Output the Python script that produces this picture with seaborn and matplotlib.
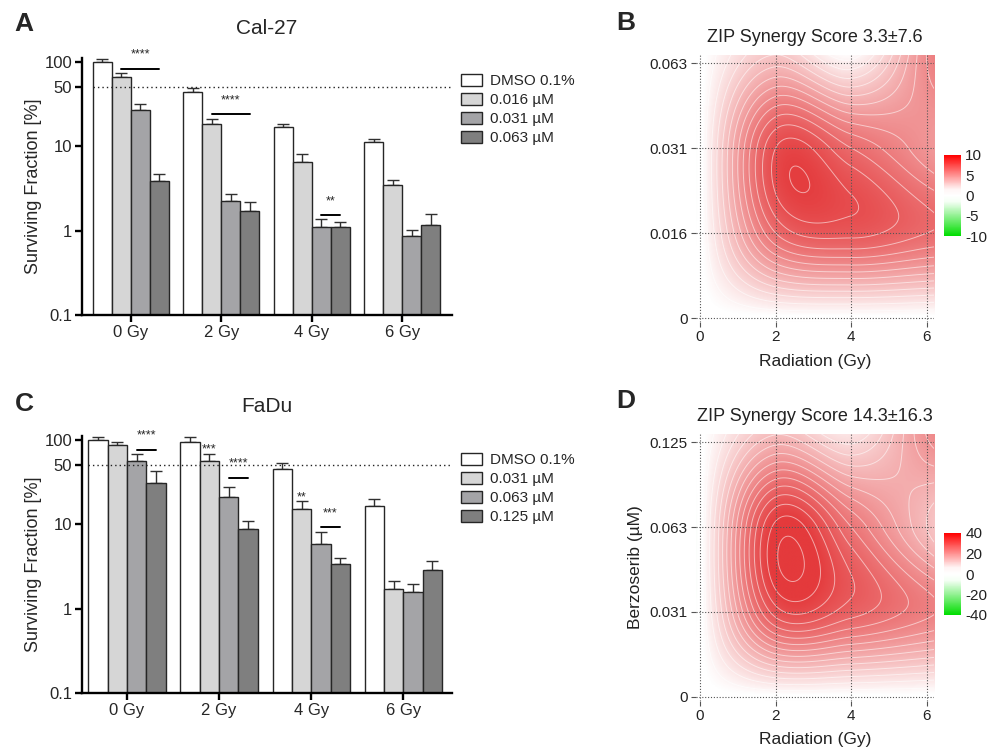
import numpy as np
import pandas as pd
import matplotlib
matplotlib.use("Agg")
import matplotlib.pyplot as plt
import seaborn as sns
from matplotlib.colors import LinearSegmentedColormap, Normalize
from matplotlib.cm import ScalarMappable
from matplotlib.container import BarContainer

# ==========================
# DATA
# ==========================
doses = ["0 Gy", "2 Gy", "4 Gy", "6 Gy"]

cal_treat = ["DMSO 0.1%", "0.016 µM", "0.031 µM", "0.063 µM"]
cal_mean = [[100, 43.7, 16.8, 11.4],
            [67, 18.2, 6.6, 3.45],
            [26.7, 2.23, 1.10, 0.87],
            [3.92, 1.73, 1.10, 1.16]]
cal_err = [[8.6, 5.0, 1.8, 0.9],
           [6.4, 2.9, 1.5, 0.54],
           [4.8, 0.47, 0.27, 0.16],
           [0.78, 0.48, 0.18, 0.40]]
# (group, bar from, bar to, line y, stars, text y)
cal_sig = [(0, 1, 3, 82, "****", 124),
           (1, 1, 3, 23.9, "****", 35),
           (2, 2, 3, 1.55, "**", 2.25)]

fadu_treat = ["DMSO 0.1%", "0.031 µM", "0.063 µM", "0.125 µM"]
fadu_mean = [[100, 95.6, 45.4, 16.7],
             [88.1, 57.0, 15.0, 1.69],
             [55.9, 21.3, 5.82, 1.58],
             [31.0, 8.84, 3.34, 2.89]]
fadu_err = [[7.6, 13.0, 8.5, 3.2],
            [7.5, 11.3, 3.8, 0.41],
            [11.8, 6.7, 2.4, 0.37],
            [12.4, 2.2, 0.6, 0.74]]
fadu_sig = [(0, 2, 3, 76.9, "****", 114),
            (1, 1, 1, None, "***", 78),
            (1, 2, 3, 35.8, "****", 53),
            (2, 1, 1, None, "**", 21),
            (2, 2, 3, 9.33, "***", 13.5)]

bar_colors = ["#ffffff", "#d6d6d6", "#a4a4a7", "#7f7f7f"]

# ZIP synergy surfaces: rows = drug dose (low -> high), cols = radiation 0,2,4,6 Gy
rad_ticks = [0, 2, 4, 6]
cal_dose_labels = ["0", "0.016", "0.031", "0.063"]
cal_zip = np.array([[0, 0, 0, 0],
                    [0, 7.5, 8.5, 7.5],
                    [0, 9.0, 7.5, 5.5],
                    [0, 3.5, 1.0, 6.0]])
fadu_dose_labels = ["0", "0.031", "0.063", "0.125"]
fadu_zip = np.array([[0, 0, 0, 0],
                     [0, 35, 32, 26],
                     [0, 40, 28, 14],
                     [0, 16, 8, 22]])

# ==========================
# STYLE
# ==========================
sns.set_theme(style="white")
plt.rcParams["font.family"] = ["Liberation Sans", "DejaVu Sans"]
plt.rcParams["axes.unicode_minus"] = False

W, H = 997, 749
fig = plt.figure(figsize=(W / 100, H / 100), dpi=100)


def px_axes(left, top, right, bottom):
    return fig.add_axes([left / W, 1 - bottom / H, (right - left) / W, (bottom - top) / H])


# ==========================
# BAR PANELS
# ==========================
def bar_panel(ax, treat, mean, err, sig, xlim, leg_top):
    rows = []
    for h, t in enumerate(treat):
        for g, d in enumerate(doses):
            rows.append({"dose": d, "treat": t, "sf": mean[h][g]})
    df = pd.DataFrame(rows)
    sns.barplot(data=df, x="dose", y="sf", hue="treat", palette=bar_colors,
                width=0.84, gap=0, edgecolor="#262626", linewidth=1.0,
                errorbar=None, ax=ax, zorder=2)
    ax.set_yscale("log")
    ax.set_ylim(0.1, 111.5)
    ax.set_xlim(*xlim)

    # upper SEM bars
    bars = [c for c in ax.containers if isinstance(c, BarContainer)]
    centers = []
    for h, cont in enumerate(bars):
        cx = [p.get_x() + p.get_width() / 2 for p in cont.patches]
        cy = [p.get_height() for p in cont.patches]
        centers.append(cx)
        ax.errorbar(cx, cy, yerr=[np.zeros(len(cy)), err[h]], fmt="none",
                    ecolor="#303030", elinewidth=1.0, capsize=4.5, capthick=1.0, zorder=1)

    ax.axhline(50, xmin=(-0.42 - xlim[0]) / (xlim[1] - xlim[0]), xmax=1,
               color="#222222", lw=1.0, ls=(0, (1, 2.2)), zorder=4)

    for g, h0, h1, ly, stars, ty in sig:
        x0, x1 = centers[h0][g], centers[h1][g]
        if ly is not None:
            ax.plot([x0, x1], [ly, ly], color="black", lw=1.4, zorder=5, clip_on=False)
        ax.text((x0 + x1) / 2, ty, stars, ha="center", va="center", fontsize=9, zorder=5)

    for side in ["top", "right"]:
        ax.spines[side].set_visible(False)
    for side in ["left", "bottom"]:
        ax.spines[side].set_linewidth(1.7)
        ax.spines[side].set_color("black")
    ax.set_yticks([0.1, 1, 10, 50, 100])
    ax.set_yticklabels(["0.1", "1", "10", "50", "100"])
    ax.yaxis.set_minor_locator(matplotlib.ticker.NullLocator())
    ax.tick_params(axis="both", which="major", direction="out", length=5, width=1.7,
                   color="black", labelsize=12, pad=2, left=True, bottom=True)
    ax.set_xlabel("")
    ax.set_ylabel("Surviving Fraction [%]", fontsize=13)
    ax.yaxis.set_label_coords(-0.108, 0.5)

    handles, labels = ax.get_legend_handles_labels()
    ax.legend(handles, labels, loc="upper left", bbox_to_anchor=(461 / W, 1 - leg_top / H),
              bbox_transform=fig.transFigure, frameon=False, fontsize=11,
              handlelength=1.35, handleheight=0.8, handletextpad=0.55,
              labelspacing=0.32, borderpad=0, borderaxespad=0)


axA = px_axes(82, 58, 452, 315)
bar_panel(axA, cal_treat, cal_mean, cal_err, cal_sig, (-0.54, 3.55), 74)
fig.text(267 / W, 1 - 28 / H, "Cal-27", ha="center", va="center", fontsize=15)

axC = px_axes(82, 436, 452, 693)
bar_panel(axC, fadu_treat, fadu_mean, fadu_err, fadu_sig, (-0.49, 3.53), 453)
fig.text(267 / W, 1 - 407 / H, "FaDu", ha="center", va="center", fontsize=15)

# ==========================
# SYNERGY PANELS
# ==========================
surf_cmap = LinearSegmentedColormap.from_list(
    "zip_surf", [(0, "#2fc02f"), (0.48, "#ffffff"), (0.51, "#ffffff"), (1, "#e43a3c")])
bar_cmap = LinearSegmentedColormap.from_list(
    "zip_bar", [(0, "#00dd00"), (0.42, "#f4fff4"), (0.5, "#ffffff"), (0.58, "#fff4f4"), (1, "#ff0000")])


def cr_weights(t):
    # catmull-rom weights of the 4 grid nodes at positions t (index units)
    Wt = np.zeros((len(t), 4))
    i = np.clip(np.floor(t).astype(int), 0, 2)
    s = t - i
    for k in range(4):
        p = np.zeros(4)
        p[k] = 1
        ext = np.concatenate([[2 * p[0] - p[1]], p, [2 * p[3] - p[2]]])
        p0, p1, p2, p3 = ext[i], ext[i + 1], ext[i + 2], ext[i + 3]
        Wt[:, k] = 0.5 * (2 * p1 + (-p0 + p2) * s + (2 * p0 - 5 * p1 + 4 * p2 - p3) * s ** 2
                          + (-p0 + 3 * p1 - 3 * p2 + p3) * s ** 3)
    return Wt


def zip_panel(ax, cax, M, dose_labels, vmax, step, title, ylabel):
    xlim = (-0.12, 6.2)
    ylim = (-0.05, 3.1)
    xs = np.linspace(xlim[0], xlim[1], 300)
    ys = np.linspace(ylim[0], ylim[1], 300)
    Z = cr_weights(ys) @ M @ cr_weights(xs / 2).T
    ax.imshow(Z, origin="lower", extent=(xlim[0], xlim[1], ylim[0], ylim[1]),
              cmap=surf_cmap, vmin=-vmax, vmax=vmax, aspect="auto", interpolation="bilinear", zorder=0)
    levels = np.arange(step, vmax * 1.3, step)
    ax.contour(xs, ys, Z, levels=levels, colors="white", linewidths=0.7, alpha=0.55, zorder=1)
    ax.set_xlim(*xlim)
    ax.set_ylim(*ylim)
    ax.set_xticks(rad_ticks)
    ax.set_yticks(range(4))
    ax.set_yticklabels(dose_labels)
    ax.grid(True, color="#555555", lw=0.8, ls=(0, (1, 1.6)))
    ax.set_axisbelow(False)
    for s in ax.spines.values():
        s.set_visible(False)
    ax.tick_params(length=3.5, width=0.8, color="#555555", labelsize=11, labelcolor="#222222",
                   pad=2, left=True, bottom=True)
    ax.set_xlabel("Radiation (Gy)", fontsize=12.5, color="#222222", labelpad=7)
    if ylabel:
        ax.set_ylabel(ylabel, fontsize=12.5, color="#222222", labelpad=5)
    ax.set_title(title, fontsize=13, color="#222222", pad=9)

    cb = fig.colorbar(ScalarMappable(Normalize(-vmax, vmax), bar_cmap), cax=cax)
    cb.outline.set_visible(False)
    ticks = [-vmax, -vmax / 2, 0, vmax / 2, vmax]
    cb.set_ticks(ticks)
    cb.set_ticklabels([str(int(t)) for t in ticks])
    cax.tick_params(length=0, labelsize=11, labelcolor="#222222", pad=3)


axB = px_axes(695.5, 54.5, 934.4, 322.3)
caxB = px_axes(944, 155, 961, 236)
zip_panel(axB, caxB, cal_zip, cal_dose_labels, 10, 0.75, "ZIP Synergy Score 3.3±7.6", None)

axD = px_axes(695.5, 433.8, 934.4, 701)
caxD = px_axes(944, 533, 961, 615)
zip_panel(axD, caxD, fadu_zip, fadu_dose_labels, 40, 2.8, "ZIP Synergy Score 14.3±16.3", "Berzoserib (µM)")

# panel letters
for letter, x, y in [("A", 24, 24), ("B", 626, 23), ("C", 24, 404), ("D", 626, 401)]:
    fig.text(x / W, 1 - y / H, letter, ha="center", va="center", fontsize=19, fontweight="bold")

fig.savefig("out.png", dpi=100)
